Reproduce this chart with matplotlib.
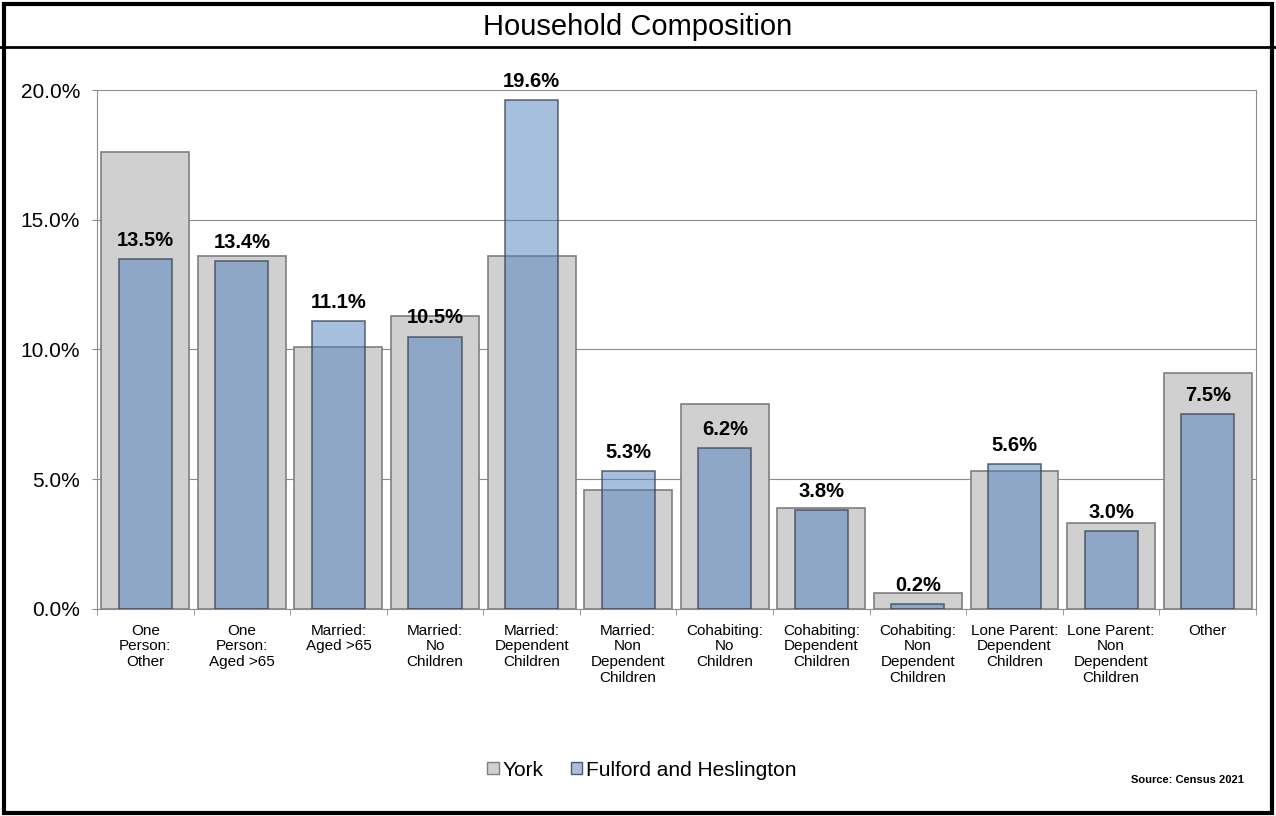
"""Household composition: York vs Fulford and Heslington (Census 2021)."""

import matplotlib

matplotlib.use("Agg")
import matplotlib.pyplot as plt
from matplotlib.lines import Line2D
from matplotlib.patches import Patch, Rectangle
from matplotlib.ticker import FuncFormatter, MultipleLocator

plt.rcParams["font.family"] = ["Liberation Sans", "DejaVu Sans"]

categories = [
    "One\nPerson:\nOther",
    "One\nPerson:\nAged >65",
    "Married:\nAged >65",
    "Married:\nNo\nChildren",
    "Married:\nDependent\nChildren",
    "Married:\nNon\nDependent\nChildren",
    "Cohabiting:\nNo\nChildren",
    "Cohabiting:\nDependent\nChildren",
    "Cohabiting:\nNon\nDependent\nChildren",
    "Lone Parent:\nDependent\nChildren",
    "Lone Parent:\nNon\nDependent\nChildren",
    "Other",
]
york = [17.6, 13.6, 10.1, 11.3, 13.6, 4.6, 7.9, 3.9, 0.6, 5.3, 3.3, 9.1]
fulford = [13.5, 13.4, 11.1, 10.5, 19.6, 5.3, 6.2, 3.8, 0.2, 5.6, 3.0, 7.5]

GREY = "#d0d0d0"
BLUE = (0.31, 0.50, 0.74, 0.5)

fig = plt.figure(figsize=(12.76, 8.16), dpi=100)
ax = fig.add_axes([0.076, 0.2537, 0.9083, 0.636])

x = range(len(categories))
ax.bar(x, york, width=0.91, color=GREY, edgecolor="#7f7f7f", linewidth=1.2, zorder=2)
ax.bar(x, fulford, width=0.55, color=BLUE, edgecolor=(0.22, 0.26, 0.32, 0.75),
       linewidth=1.2, zorder=3)

for xi, v in zip(x, fulford):
    ax.text(xi, v + 0.35, f"{v:.1f}%", ha="center", va="bottom",
            fontsize=14.5, fontweight="bold", zorder=4)

ax.set_xlim(-0.5, len(categories) - 0.5)
ax.set_ylim(0, 20)
ax.yaxis.set_major_locator(MultipleLocator(5))
ax.yaxis.set_major_formatter(FuncFormatter(lambda v, _: f"{v:.1f}%"))
ax.tick_params(axis="y", labelsize=15, length=3.6, color="#8c8c8c", pad=8.5)

ax.set_xticks(list(x))
ax.set_xticklabels(categories, fontsize=11, linespacing=1.15)
ax.set_xticks([i + 0.5 for i in range(-1, len(categories))], minor=True)
ax.tick_params(axis="x", which="major", length=0, pad=10.5)
ax.tick_params(axis="x", which="minor", length=4, color="#8c8c8c")

ax.grid(axis="y", color="#8c8c8c", linewidth=0.8, zorder=1)
for side in ("left", "right", "bottom"):
    ax.spines[side].set_color("#8c8c8c")
    ax.spines[side].set_linewidth(0.8)
ax.spines["top"].set_visible(False)

# outer frame and title box
fig.add_artist(Rectangle((0.003, 0.004), 0.994, 0.991, transform=fig.transFigure,
                         fill=False, edgecolor="black", linewidth=3.0))
fig.add_artist(Line2D([0, 1], [1 - 47 / 816] * 2, transform=fig.transFigure,
                      color="black", linewidth=2.0))
fig.text(0.5, 1 - 27 / 816, "Household Composition", ha="center", va="center",
         fontsize=21)

handles = [
    Patch(facecolor=GREY, edgecolor="#7f7f7f", label="York"),
    Patch(facecolor="#a7bfdd", edgecolor="#505a66", label="Fulford and Heslington"),
]
fig.legend(handles=handles, loc="center", bbox_to_anchor=(642 / 1276, 1 - 770 / 816),
           ncol=2, frameon=False, fontsize=15, handlelength=0.55, handleheight=0.55,
           handletextpad=0.2, columnspacing=1.3)
fig.text(1244 / 1276, 1 - 780 / 816, "Source: Census 2021", ha="right", va="center",
         fontsize=8, fontweight="bold")

fig.savefig("out.png", dpi=100)
